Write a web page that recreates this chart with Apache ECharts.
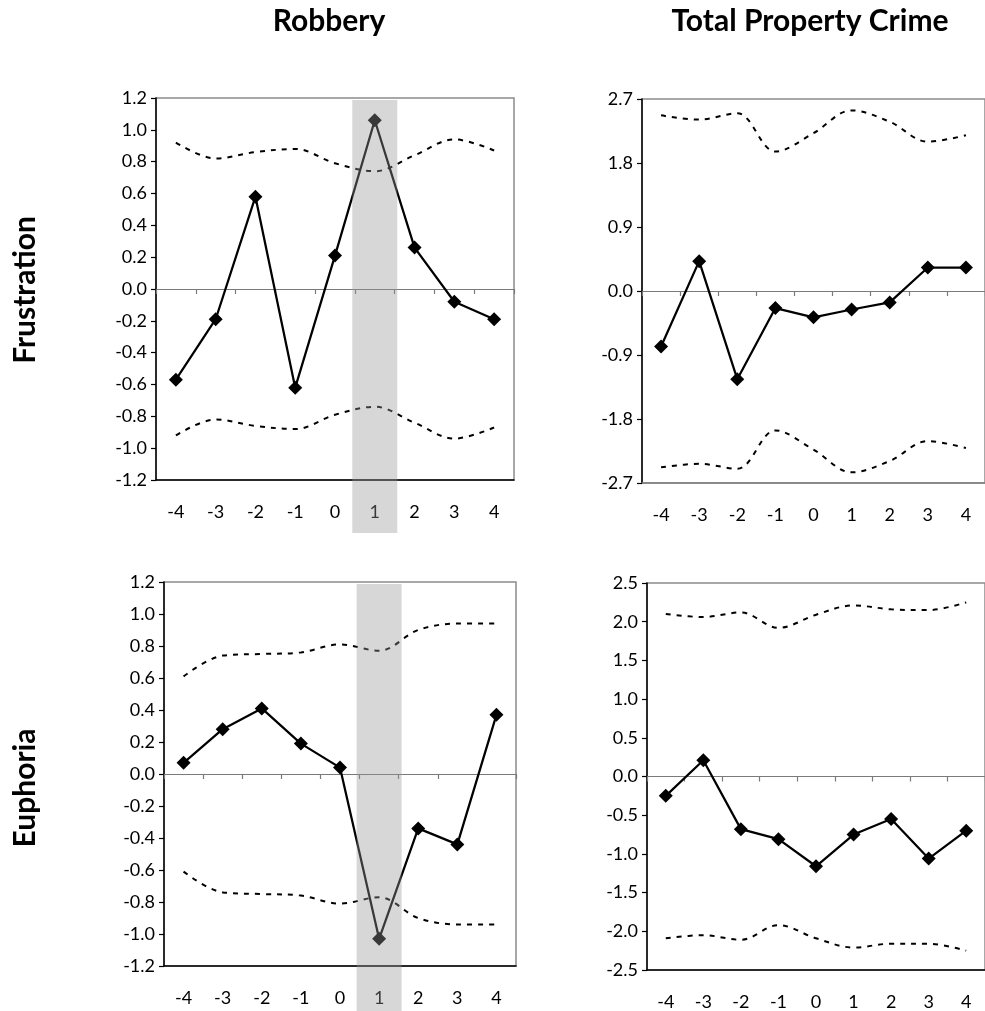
<!DOCTYPE html>
<html><head><meta charset="utf-8">
<script src="https://cdn.jsdelivr.net/npm/echarts@6/dist/echarts.min.js"></script>
<style>html,body{margin:0;padding:0;background:#fff}#c{width:985px;height:1011px}</style>
</head><body><div id="c"></div>
<script>
const categories = ['-4','-3','-2','-1','0','1','2','3','4'];
const colTitles = ['Robbery', 'Total Property Crime'];
const rowTitles = ['Frustration', 'Euphoria'];

const robFrusEst   = [-0.57,-0.19,0.58,-0.62,0.21,1.06,0.26,-0.08,-0.19];
const robFrusUpper = [0.92,0.82,0.86,0.88,0.79,0.74,0.84,0.94,0.87];
const robFrusLower = [-0.92,-0.82,-0.86,-0.88,-0.79,-0.74,-0.84,-0.94,-0.87];

const propFrusEst   = [-0.78,0.42,-1.24,-0.24,-0.37,-0.26,-0.16,0.33,0.33];
const propFrusUpper = [2.47,2.41,2.50,1.96,2.22,2.54,2.38,2.10,2.19];
const propFrusLower = [-2.48,-2.43,-2.50,-1.96,-2.23,-2.55,-2.39,-2.11,-2.21];

const robEuphEst   = [0.07,0.28,0.41,0.19,0.04,-1.03,-0.34,-0.44,0.37];
const robEuphUpper = [0.61,0.74,0.75,0.76,0.81,0.77,0.90,0.94,0.94];
const robEuphLower = [-0.61,-0.74,-0.75,-0.76,-0.81,-0.77,-0.90,-0.94,-0.94];

const propEuphEst   = [-0.25,0.21,-0.68,-0.81,-1.16,-0.75,-0.55,-1.06,-0.70];
const propEuphUpper = [2.10,2.06,2.12,1.92,2.09,2.21,2.16,2.15,2.25];
const propEuphLower = [-2.09,-2.05,-2.11,-1.92,-2.09,-2.21,-2.16,-2.16,-2.25];

const highlight = [null,null,null,null,null,1,null,null,null];

const FONT = 'Lato, Carlito, "Liberation Sans", sans-serif';
const TICK = 18;
const HEAD = 30;

const panels = [
  {grid:{left:156,top:98,width:358,height:382}, min:-1.2,max:1.2,interval:0.2,
   est:robFrusEst, up:robFrusUpper, lo:robFrusLower, band:{top:100,height:433}, bottomColor:'#000'},
  {grid:{left:642,top:99,width:346,height:384}, min:-2.7,max:2.7,interval:0.9,
   est:propFrusEst, up:propFrusUpper, lo:propFrusLower, band:null, bottomColor:'#808080'},
  {grid:{left:164,top:582,width:352,height:384}, min:-1.2,max:1.2,interval:0.2,
   est:robEuphEst, up:robEuphUpper, lo:robEuphLower, band:{top:584,height:430}, bottomColor:'#000'},
  {grid:{left:647,top:583,width:347,height:387}, min:-2.5,max:2.5,interval:0.5,
   est:propEuphEst, up:propEuphUpper, lo:propEuphLower, band:null, bottomColor:'#000'}
];

const grid = [], xAxis = [], yAxis = [], series = [];
const fmt = v => Math.abs(v) < 1e-9 ? '0.0' : v.toFixed(1);

panels.forEach(p => {
  const gi = grid.length;
  grid.push(Object.assign({show:true, borderColor:'#8c8c8c', borderWidth:1.5, backgroundColor:'transparent'}, p.grid));
  const xZero = xAxis.length;
  xAxis.push({type:'category', gridIndex:gi, data:categories, boundaryGap:true, position:'bottom',
    axisLine:{show:true, onZero:true, lineStyle:{color:'#7a7a7a', width:1.2}},
    axisTick:{show:true, interval:0, length:5, lineStyle:{color:'#7a7a7a', width:1.2}},
    axisLabel:{show:false}, splitLine:{show:false}});
  xAxis.push({type:'category', gridIndex:gi, data:categories, boundaryGap:true, position:'bottom',
    axisLine:{show:true, onZero:false, lineStyle:{color:p.bottomColor, width:1.5}},
    axisTick:{show:false},
    axisLabel:{show:true, margin:23, fontSize:TICK, color:'#000', fontFamily:FONT},
    splitLine:{show:false}});
  const yi = yAxis.length;
  yAxis.push({type:'value', gridIndex:gi, min:p.min, max:p.max, interval:p.interval,
    axisLine:{show:true, lineStyle:{color:'#000', width:1.5}},
    axisTick:{show:true, length:5, lineStyle:{color:'#000', width:1.2}},
    axisLabel:{formatter:fmt, fontSize:TICK, margin:9, color:'#000', fontFamily:FONT},
    splitLine:{show:false}});
  series.push({type:'line', xAxisIndex:xZero, yAxisIndex:yi, data:p.up, smooth:0.35,
    symbol:'none', lineStyle:{color:'#000', width:2, type:[5,6]}, z:2, silent:true});
  series.push({type:'line', xAxisIndex:xZero, yAxisIndex:yi, data:p.lo, smooth:0.35,
    symbol:'none', lineStyle:{color:'#000', width:2, type:[5,6]}, z:2, silent:true});
  series.push({type:'line', xAxisIndex:xZero, yAxisIndex:yi, data:p.est,
    symbol:'diamond', symbolSize:14, lineStyle:{color:'#000', width:2.25},
    itemStyle:{color:'#000'}, z:3, silent:true});
  if (p.band) {
    const bg = grid.length;
    grid.push({left:p.grid.left, width:p.grid.width, top:p.band.top, height:p.band.height, show:false});
    const bx = xAxis.length;
    xAxis.push({type:'category', gridIndex:bg, data:categories, show:false, boundaryGap:true});
    const by = yAxis.length;
    yAxis.push({type:'value', gridIndex:bg, min:0, max:1, show:false});
    series.push({type:'bar', xAxisIndex:bx, yAxisIndex:by, data:highlight, barWidth:45,
      itemStyle:{color:'rgba(150,150,150,0.38)'}, z:10, silent:true});
  }
});

const graphic = [
  {type:'text', x:329, y:21, style:{text:colTitles[0], font:'bold '+HEAD+'px '+FONT, fill:'#000', textAlign:'center', textVerticalAlign:'middle'}},
  {type:'text', x:810, y:21, style:{text:colTitles[1], font:'bold '+HEAD+'px '+FONT, fill:'#000', textAlign:'center', textVerticalAlign:'middle'}},
  {type:'text', x:25, y:290, rotation:Math.PI/2, style:{text:rowTitles[0], font:'bold '+HEAD+'px '+FONT, fill:'#000', textAlign:'center', textVerticalAlign:'middle'}},
  {type:'text', x:25, y:788, rotation:Math.PI/2, style:{text:rowTitles[1], font:'bold '+HEAD+'px '+FONT, fill:'#000', textAlign:'center', textVerticalAlign:'middle'}}
];

const chart = echarts.init(document.getElementById('c'));
chart.setOption({animation:false, backgroundColor:'#fff', grid, xAxis, yAxis, series, graphic});
</script>
</body></html>
